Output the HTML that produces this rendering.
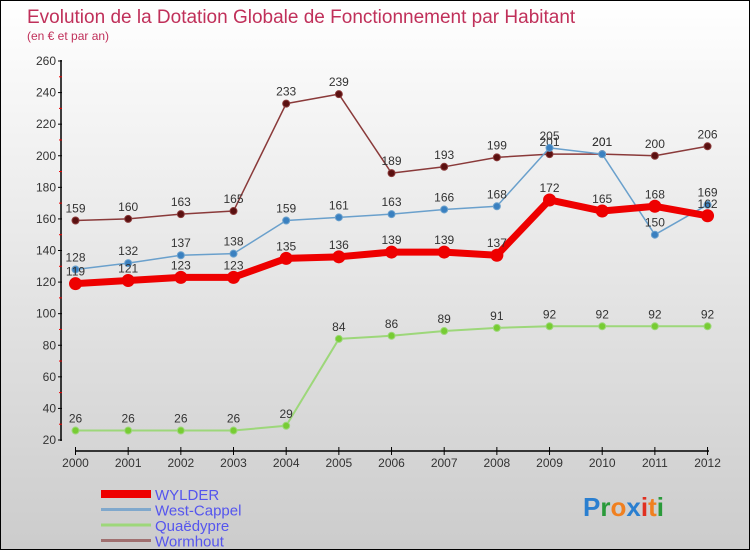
<!DOCTYPE html>
<html><head><meta charset="utf-8"><style>
html,body{margin:0;padding:0}
body{width:750px;height:550px;overflow:hidden;font-family:"Liberation Sans",sans-serif}
#wrap{position:relative;width:748px;height:548px;border:1px solid #000;background:linear-gradient(#fff,#ccc)}
</style></head><body>
<div id="wrap">
<svg id="chart" width="748" height="548"></svg>
</div>
<script>
const years=["2000","2001","2002","2003","2004","2005","2006","2007","2008","2009","2010","2011","2012"];
const yTicks=[20,40,60,80,100,120,140,160,180,200,220,240,260];
const wylder=[119,121,123,123,135,136,139,139,137,172,165,168,162];
const westCappel=[128,132,137,138,159,161,163,166,168,205,201,150,169];
const quaedypre=[26,26,26,26,29,84,86,89,91,92,92,92,92];
const wormhout=[159,160,163,165,233,239,189,193,199,201,201,200,206];
const seriesNames=["WYLDER","West-Cappel","Quaëdypre","Wormhout"];

const svg=document.getElementById('chart');
const NS="http://www.w3.org/2000/svg";
function xs(i){return 74.5+i*52.67;}
function ys(v){return 439-(v-20)*(379/240);}
function mk(tag,attrs,parent){const e=document.createElementNS(NS,tag);for(const k in attrs)e.setAttribute(k,attrs[k]);(parent||svg).appendChild(e);return e;}

const t=mk('text',{x:26,y:22,fill:'#c0305a','font-size':19});
t.textContent="Evolution de la Dotation Globale de Fonctionnement par Habitant";


const st=mk('text',{x:26,y:39,fill:'#c0305a','font-size':12});
st.textContent="(en € et par an)";



const ya=mk('line',{x1:60,y1:59,x2:60,y2:440,stroke:'#000','stroke-width':1.5});


yTicks.forEach(v=>{
  const y=ys(v);
  mk('line',{x1:57,y1:y,x2:61,y2:y,stroke:'#000'});
  const l=mk('text',{x:55,y:y+4,'text-anchor':'end','font-size':12,fill:'#333'});
  l.textContent=v;
  
  
  if(v<260) mk('line',{x1:58,y1:ys(v+10),x2:61,y2:ys(v+10),stroke:'#e00'});
});
const xa=mk('line',{x1:74,y1:450,x2:708,y2:450,stroke:'#000','stroke-width':1.5});


years.forEach((yr,i)=>{
  const x=xs(i);
  mk('line',{x1:x,y1:446,x2:x,y2:454,stroke:'#000'});
  const l=mk('text',{x:x,y:466,'text-anchor':'middle','font-size':12,fill:'#333'});
  l.textContent=yr;
  
  
});

function series(data,name,color,dot,w,r,labelColor){
  const g=mk('g',{});
  
  
  mk('polyline',{points:data.map((v,i)=>xs(i)+','+ys(v)).join(' '),fill:'none',stroke:color,'stroke-width':w,'stroke-linejoin':'round'},g);
  data.forEach((v,i)=>{
    const c=mk('circle',{cx:xs(i),cy:ys(v),r:r,fill:dot,stroke:color,'stroke-width':1},g);
    
    
    const l=mk('text',{x:xs(i),y:ys(v)-8,'text-anchor':'middle','font-size':12,fill:labelColor},g);
    l.textContent=v;
    
    
  });
}
series(quaedypre,'quaedypre','#9dd77a','#77cc33',2,3.5,'#333');
series(wormhout,'wormhout','#8a3a3a','#5a1010',1.5,3.5,'#333');
series(westCappel,'west-cappel','#6aa0cc','#3a80c0',1.5,3.5,'#333');
series(wylder,'wylder','#ee0000','#ee0000',7,6,'#333');

const colors=['#ee0000','#80a8cc','#9dd77a','#a07070'];
const widths=[8,3,3,3];
seriesNames.forEach((n,i)=>{
  const y=493+i*15.5;
  const g=mk('g',{});
  
  
  mk('line',{x1:100,y1:y,x2:150,y2:y,stroke:colors[i],'stroke-width':widths[i]},g);
  const l=mk('text',{x:154,y:y+6,'font-size':15,fill:'#5555ee'},g);
  l.textContent=n;
});
const logo=mk('text',{x:582,y:515,'font-size':26,'font-weight':'bold'});


[['P','#2a7fd0'],['r','#2a9a3a'],['o','#f08020'],['x','#2a7fd0'],['i','#e03020'],['t','#f08020'],['i','#2a9a3a']].forEach(([c,col])=>{
  const s=mk('tspan',{fill:col},logo);s.textContent=c;
});
</script>
</body></html>
